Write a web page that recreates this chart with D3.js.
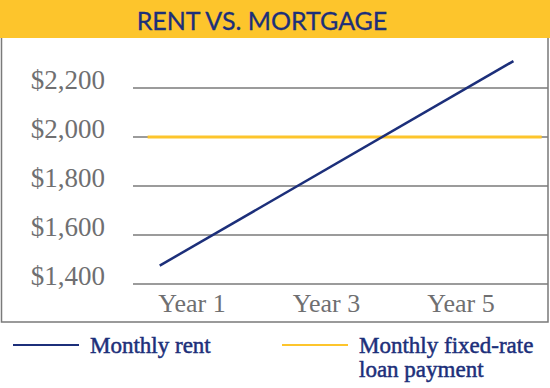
<!DOCTYPE html>
<html>
<head>
<meta charset="utf-8">
<script src="https://cdn.jsdelivr.net/npm/d3@7"></script>
<style>
  body { margin: 0; background: #fff; }
  svg { display: block; }
</style>
</head>
<body>
<main></main>
<script>
const width = 550;
const height = 388;

// data
const yTicks = [1400, 1600, 1800, 2000, 2200];
const xTicks = [1, 3, 5];
const xTickLabels = ["Year 1", "Year 3", "Year 5"];
const rentYears = [0.52, 5.78];
const rentValues = [1475, 2310];
const loanYears = [0.34, 6.2];
const loanValues = [2000, 2000];
const legendLabels = ["Monthly rent", "Monthly fixed-rate", "loan payment"];

const navy = "#1c2f7a";
const yellow = "#fdc52c";
const grey = "#6f6f71";

const svg = d3.select("main")
  .append("svg")
  .attr("width", width)
  .attr("height", height);

// title bar
svg.append("rect")
   .attr("x", 0).attr("y", 0)
   .attr("width", width).attr("height", 38)
   .attr("fill", yellow);

svg.append("text")
   .attr("x", 262)
   .attr("y", 30)
   .attr("text-anchor", "middle")
   .attr("font-family", "Lato, 'Noto Sans', sans-serif")
   .attr("font-size", 25)
   .attr("fill", navy)
   .attr("stroke", navy)
   .attr("stroke-width", 0.3)
   .text("RENT VS. MORTGAGE");

// frame
svg.append("path")
   .attr("d", "M1.5,38 V322 H548 V38")
   .attr("fill", "none")
   .attr("stroke", "#7a7a7a")
   .attr("stroke-width", 1.5);

const xScale = d3.scaleLinear().domain([1, 5]).range([192, 461]);
const yScale = d3.scaleLinear().domain([1400, 2200]).range([284, 88]);

// gridlines
svg.append("g")
   .selectAll("line")
   .data(yTicks)
   .enter()
   .append("line")
   .attr("x1", 133).attr("x2", 548)
   .attr("y1", d => yScale(d)).attr("y2", d => yScale(d))
   .attr("stroke", "#7a7a7a")
   .attr("stroke-width", 1.5);

// y labels
svg.append("g")
   .selectAll("text")
   .data(yTicks)
   .enter()
   .append("text")
   .attr("x", 105)
   .attr("y", d => yScale(d) + 1)
   .attr("text-anchor", "end")
   .attr("font-family", "'Liberation Serif', serif")
   .attr("font-size", 27)
   .attr("fill", grey)
   .text(d => "$" + d3.format(",")(d));

// x labels
svg.append("g")
   .selectAll("text")
   .data(xTicks)
   .enter()
   .append("text")
   .attr("x", d => xScale(d))
   .attr("y", 312)
   .attr("text-anchor", "middle")
   .attr("font-family", "'Liberation Serif', serif")
   .attr("font-size", 26)
   .attr("fill", grey)
   .text((d, i) => xTickLabels[i]);

const line = d3.line()
  .x(d => xScale(d[0]))
  .y(d => yScale(d[1]));

svg.append("path")
   .datum(loanYears.map((d, i) => [d, loanValues[i]]))
   .attr("d", line)
   .attr("fill", "none")
   .attr("stroke", yellow)
   .attr("stroke-width", 3);

svg.append("path")
   .datum(rentYears.map((d, i) => [d, rentValues[i]]))
   .attr("d", line)
   .attr("fill", "none")
   .attr("stroke", navy)
   .attr("stroke-width", 2.5);

// legend
const legendItems = [
  { x: 13, color: navy, lines: [legendLabels[0]] },
  { x: 282, color: yellow, lines: [legendLabels[1], legendLabels[2]] }
];

const legend = svg.append("g");
legendItems.forEach(item => {
  legend.append("line")
        .attr("x1", item.x).attr("x2", item.x + 66)
        .attr("y1", 345).attr("y2", 345)
        .attr("stroke", item.color)
        .attr("stroke-width", 2.2);
  const t = legend.append("text")
        .attr("x", item.x + 77)
        .attr("y", 353)
        .attr("font-family", "'Liberation Serif', serif")
        .attr("font-size", 23)
        .attr("fill", navy)
        .attr("stroke", navy)
        .attr("stroke-width", 0.5);
  item.lines.forEach((l, i) => {
    t.append("tspan")
     .attr("x", item.x + 77)
     .attr("dy", i === 0 ? 0 : 24)
     .text(l);
  });
});
</script>
</body>
</html>
